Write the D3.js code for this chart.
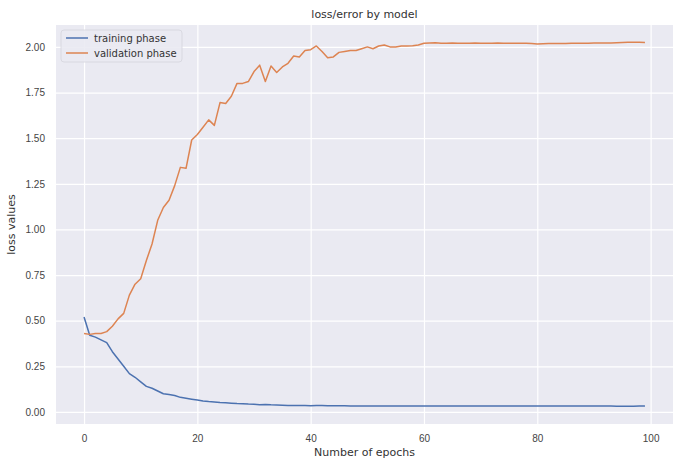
<!DOCTYPE html>
<html lang="en">
<head>
  <meta charset="UTF-8">
  <title>loss/error by model</title>
  <style type="text/css">
    body { margin: 0; background: #fff; }
    svg { display: block; font-family: "DejaVu Sans", sans-serif; }
    .tick text { fill: #444; font-size: 10px; }
  </style>
</head>
<body>
  <svg id="chart" width="685" height="465"></svg>

<script src="https://cdn.jsdelivr.net/npm/d3@7/dist/d3.min.js"></script>
<script>
  // values, epoch 0..99
  const training = [
    0.52, 0.42, 0.41, 0.395, 0.38, 0.33, 0.29, 0.25, 0.21, 0.19,
    0.165, 0.14, 0.13, 0.115, 0.10, 0.095, 0.09, 0.08, 0.075, 0.07,
    0.065, 0.06, 0.057, 0.055, 0.052, 0.05, 0.048, 0.046, 0.045, 0.043,
    0.042, 0.04, 0.041, 0.039, 0.038, 0.037, 0.036, 0.036, 0.035, 0.035,
    0.034, 0.036, 0.035, 0.034, 0.034, 0.034, 0.034, 0.033, 0.033, 0.033,
    0.033, 0.033, 0.033, 0.033, 0.033, 0.033, 0.033, 0.033, 0.033, 0.033,
    0.033, 0.033, 0.033, 0.033, 0.033, 0.033, 0.033, 0.033, 0.033, 0.033,
    0.033, 0.033, 0.033, 0.033, 0.033, 0.033, 0.033, 0.032, 0.032, 0.032,
    0.033, 0.032, 0.032, 0.032, 0.032, 0.032, 0.032, 0.032, 0.032, 0.032,
    0.032, 0.032, 0.032, 0.032, 0.031, 0.031, 0.031, 0.031, 0.032, 0.033
  ]
  const validation = [
    0.43, 0.425, 0.43, 0.43, 0.44, 0.47, 0.51, 0.54, 0.64, 0.70,
    0.73, 0.83, 0.92, 1.05, 1.12, 1.16, 1.24, 1.34, 1.335, 1.49,
    1.52, 1.56, 1.60, 1.57, 1.695, 1.69, 1.73, 1.80, 1.80, 1.81,
    1.865, 1.90, 1.81, 1.895, 1.86, 1.89, 1.91, 1.95, 1.945, 1.98,
    1.985, 2.005, 1.975, 1.94, 1.945, 1.97, 1.975, 1.98, 1.98, 1.99,
    2.00, 1.99, 2.005, 2.01, 2.00, 2.00, 2.005, 2.005, 2.006, 2.01,
    2.02, 2.022, 2.023, 2.02, 2.02, 2.021, 2.02, 2.02, 2.02, 2.021,
    2.02, 2.02, 2.02, 2.021, 2.02, 2.02, 2.02, 2.02, 2.02, 2.018,
    2.016, 2.017, 2.018, 2.018, 2.019, 2.019, 2.02, 2.02, 2.02, 2.02,
    2.021, 2.021, 2.022, 2.022, 2.023, 2.024, 2.025, 2.025, 2.025, 2.024
  ]
  const seriesNames = ['training phase', 'validation phase']
  const xTicks = [0, 20, 40, 60, 80, 100]
  const yTicks = [0, 0.25, 0.5, 0.75, 1, 1.25, 1.5, 1.75, 2]

  const colors = ['#4c72b0', '#dd8452']
  const pLeft = 56, pRight = 673, pTop = 25, pBottom = 424

  const svg = d3.select('#chart')

  const x = d3.scaleLinear().domain([-4.95, 103.95]).range([pLeft, pRight])
  const y = d3.scaleLinear().domain([-0.066, 2.12]).range([pBottom, pTop])

  svg.append('rect')
    .attr('x', pLeft).attr('y', pTop)
    .attr('width', pRight - pLeft).attr('height', pBottom - pTop)
    .attr('fill', '#eaeaf2')

  // grid
  const xAxis = svg.append('g')
    .attr('transform', 'translate(0,' + pBottom + ')')
    .call(d3.axisBottom(x).tickValues(xTicks).tickSize(-(pBottom - pTop)).tickPadding(11).tickFormat(d3.format('d')))
  const yAxis = svg.append('g')
    .attr('transform', 'translate(' + pLeft + ',0)')
    .call(d3.axisLeft(y).tickValues(yTicks).tickSize(-(pRight - pLeft)).tickPadding(11).tickFormat(d3.format('.2f')))
  ;[xAxis, yAxis].forEach(function (a) {
    a.select('.domain').remove()
    a.selectAll('.tick line').attr('stroke', '#fff').attr('stroke-width', 1.2)
  })

  const line = d3.line()
    .x(function (d, i) { return x(i) })
    .y(function (d) { return y(d) })

  ;[training, validation].forEach(function (data, k) {
    svg.append('path')
      .datum(data)
      .attr('fill', 'none')
      .attr('stroke', colors[k])
      .attr('stroke-width', 1.5)
      .attr('stroke-linejoin', 'round')
      .attr('d', line)
  })

  // legend
  const legend = svg.append('g').attr('transform', 'translate(61,30)')
  legend.append('rect')
    .attr('width', 121).attr('height', 32).attr('rx', 3)
    .attr('fill', '#eaeaf2').attr('stroke', '#d8d8e0').attr('opacity', 0.9)
  seriesNames.forEach(function (name, k) {
    const g = legend.append('g').attr('transform', 'translate(0,' + (8 + k * 15) + ')')
    g.append('line').attr('x1', 5).attr('x2', 27).attr('y1', 0).attr('y2', 0)
      .attr('stroke', colors[k]).attr('stroke-width', 1.5)
    g.append('text').attr('x', 33).attr('y', 3.5)
      .attr('font-size', 10).attr('fill', '#333').text(name)
  })

  svg.append('text')
    .attr('x', (pLeft + pRight) / 2).attr('y', 18)
    .attr('text-anchor', 'middle').attr('font-size', 11).attr('fill', '#333')
    .text('loss/error by model')
  svg.append('text')
    .attr('x', (pLeft + pRight) / 2).attr('y', 456)
    .attr('text-anchor', 'middle').attr('font-size', 11).attr('fill', '#333')
    .text('Number of epochs')
  svg.append('text')
    .attr('transform', 'translate(15,' + ((pTop + pBottom) / 2) + ') rotate(-90)')
    .attr('text-anchor', 'middle').attr('font-size', 11).attr('fill', '#333')
    .text('loss values')
</script>
</body>
</html>
